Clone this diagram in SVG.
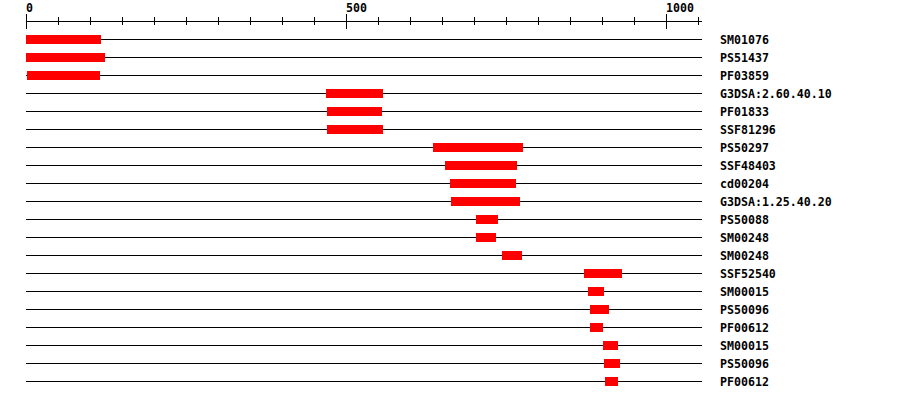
<svg xmlns="http://www.w3.org/2000/svg" width="900" height="400" viewBox="0 0 900 400">
<style>
text{font-family:"DejaVu Sans Mono","Liberation Mono",monospace;font-weight:bold;font-size:11.6px;fill:#000}
.ax{stroke:#000;stroke-width:1;fill:none}
.row{stroke:#000;stroke-width:1}
.bar{fill:#ff0000}
</style>
<rect width="900" height="400" fill="#fff"/>
<g id="axis">
<line class="ax" x1="26" y1="21.5" x2="702" y2="21.5"/>
<path class="ax" d="M26.5 14V29M346.5 14V29M666.5 14V29M58.5 17V25M90.5 17V25M122.5 17V25M154.5 17V25M186.5 17V25M218.5 17V25M250.5 17V25M282.5 17V25M314.5 17V25M378.5 17V25M410.5 17V25M442.5 17V25M474.5 17V25M506.5 17V25M538.5 17V25M570.5 17V25M602.5 17V25M634.5 17V25M698.5 17V25"/>
<text x="26" y="12">0</text>
<text x="346" y="12">500</text>
<text x="666" y="12">1000</text>
</g>
<g id="connectors">
<line class="row" x1="26" y1="39.5" x2="702" y2="39.5"/>
<line class="row" x1="26" y1="57.5" x2="702" y2="57.5"/>
<line class="row" x1="26" y1="75.5" x2="702" y2="75.5"/>
<line class="row" x1="26" y1="93.5" x2="702" y2="93.5"/>
<line class="row" x1="26" y1="111.5" x2="702" y2="111.5"/>
<line class="row" x1="26" y1="129.5" x2="702" y2="129.5"/>
<line class="row" x1="26" y1="147.5" x2="702" y2="147.5"/>
<line class="row" x1="26" y1="165.5" x2="702" y2="165.5"/>
<line class="row" x1="26" y1="183.5" x2="702" y2="183.5"/>
<line class="row" x1="26" y1="201.5" x2="702" y2="201.5"/>
<line class="row" x1="26" y1="219.5" x2="702" y2="219.5"/>
<line class="row" x1="26" y1="237.5" x2="702" y2="237.5"/>
<line class="row" x1="26" y1="255.5" x2="702" y2="255.5"/>
<line class="row" x1="26" y1="273.5" x2="702" y2="273.5"/>
<line class="row" x1="26" y1="291.5" x2="702" y2="291.5"/>
<line class="row" x1="26" y1="309.5" x2="702" y2="309.5"/>
<line class="row" x1="26" y1="327.5" x2="702" y2="327.5"/>
<line class="row" x1="26" y1="345.5" x2="702" y2="345.5"/>
<line class="row" x1="26" y1="363.5" x2="702" y2="363.5"/>
<line class="row" x1="26" y1="381.5" x2="702" y2="381.5"/>
</g>
<g id="r1"><rect class="bar" x="26" y="35" width="75" height="9"/><text x="720" y="43.5">SM01076</text></g>
<g id="r2"><rect class="bar" x="26" y="53" width="79" height="9"/><text x="720" y="61.5">PS51437</text></g>
<g id="r3"><rect class="bar" x="27" y="71" width="73" height="9"/><text x="720" y="79.5">PF03859</text></g>
<g id="r4"><rect class="bar" x="326" y="89" width="57" height="9"/><text x="720" y="97.5">G3DSA:2.60.40.10</text></g>
<g id="r5"><rect class="bar" x="327" y="107" width="55" height="9"/><text x="720" y="115.5">PF01833</text></g>
<g id="r6"><rect class="bar" x="327" y="125" width="56" height="9"/><text x="720" y="133.5">SSF81296</text></g>
<g id="r7"><rect class="bar" x="433" y="143" width="90" height="9"/><text x="720" y="151.5">PS50297</text></g>
<g id="r8"><rect class="bar" x="445" y="161" width="72" height="9"/><text x="720" y="169.5">SSF48403</text></g>
<g id="r9"><rect class="bar" x="450" y="179" width="66" height="9"/><text x="720" y="187.5">cd00204</text></g>
<g id="r10"><rect class="bar" x="451" y="197" width="69" height="9"/><text x="720" y="205.5">G3DSA:1.25.40.20</text></g>
<g id="r11"><rect class="bar" x="476" y="215" width="22" height="9"/><text x="720" y="223.5">PS50088</text></g>
<g id="r12"><rect class="bar" x="476" y="233" width="20" height="9"/><text x="720" y="241.5">SM00248</text></g>
<g id="r13"><rect class="bar" x="502" y="251" width="20" height="9"/><text x="720" y="259.5">SM00248</text></g>
<g id="r14"><rect class="bar" x="584" y="269" width="38" height="9"/><text x="720" y="277.5">SSF52540</text></g>
<g id="r15"><rect class="bar" x="588" y="287" width="16" height="9"/><text x="720" y="295.5">SM00015</text></g>
<g id="r16"><rect class="bar" x="590" y="305" width="19" height="9"/><text x="720" y="313.5">PS50096</text></g>
<g id="r17"><rect class="bar" x="590" y="323" width="13" height="9"/><text x="720" y="331.5">PF00612</text></g>
<g id="r18"><rect class="bar" x="603" y="341" width="15" height="9"/><text x="720" y="349.5">SM00015</text></g>
<g id="r19"><rect class="bar" x="604" y="359" width="16" height="9"/><text x="720" y="367.5">PS50096</text></g>
<g id="r20"><rect class="bar" x="605" y="377" width="13" height="9"/><text x="720" y="385.5">PF00612</text></g>
</svg>
